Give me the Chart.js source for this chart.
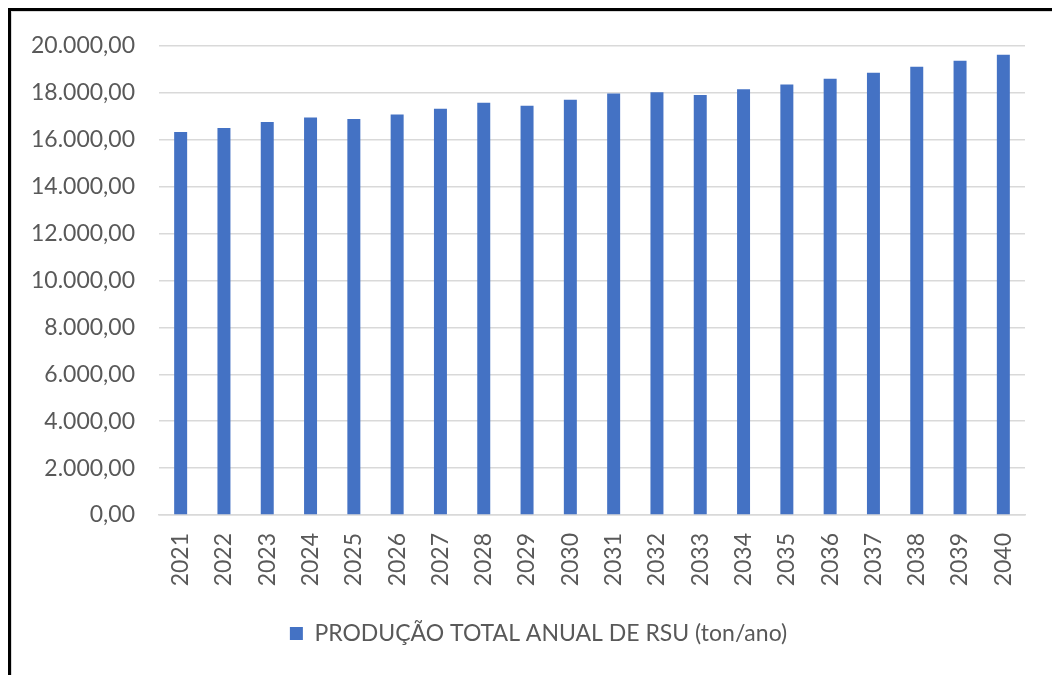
<!DOCTYPE html>
<html>
<head>
<meta charset="utf-8">
<script src="https://cdn.jsdelivr.net/npm/chart.js@4.4.1/dist/chart.umd.min.js"></script>
<style>
  html, body { margin: 0; padding: 0; background: #ffffff; }
  #wrap { position: relative; width: 1052px; height: 675px; overflow: hidden; }
  #frame { position: absolute; left: 8px; top: 8px; width: 1100px; height: 700px;
           border-left: 3px solid #000; border-top: 3px solid #000; pointer-events: none; }
  #frame2 { position: absolute; left: 11px; top: 11px; width: 1100px; height: 700px;
           border-left: 1px solid #d9d9d9; border-top: 1px solid #d9d9d9; pointer-events: none; }
</style>
</head>
<body>
<div id="wrap">
  <canvas id="c" width="1052" height="675"></canvas>
  <div id="frame"></div>
  <div id="frame2"></div>
</div>
<script>
const categories = ["2021","2022","2023","2024","2025","2026","2027","2028","2029","2030",
                    "2031","2032","2033","2034","2035","2036","2037","2038","2039","2040"];
const seriesName = "PRODUÇÃO TOTAL ANUAL DE RSU (ton/ano)";
const seriesValues = [16330, 16500, 16760, 16955, 16886, 17083, 17328, 17585, 17456, 17713,
                      17970, 18026, 17914, 18154, 18355, 18600, 18857, 19113, 19370, 19627];
const yTicks = [0, 2000, 4000, 6000, 8000, 10000, 12000, 14000, 16000, 18000, 20000];

function fmtBR(v) {
  const intPart = Math.round(v).toString().replace(/\B(?=(\d{3})+(?!\d))/g, ".");
  return intPart + ",00";
}

const FONT = "Lato, 'Open Sans', 'DejaVu Sans', sans-serif";
const TEXT = "#595959";
const GRID = "#d9d9d9";

const shiftLegend = {
  id: "shiftLegend",
  afterLayout(chart) {
    if (chart.legend) { chart.legend.left = 52; }
  }
};

new Chart(document.getElementById("c"), {
  type: "bar",
  data: {
    labels: categories,
    datasets: [{
      label: seriesName,
      data: seriesValues,
      backgroundColor: "#4472c4",
      borderWidth: 0,
      categoryPercentage: 1.0,
      barPercentage: 0.3
    }]
  },
  plugins: [shiftLegend],
  options: {
    responsive: false,
    animation: false,
    devicePixelRatio: 1,
    layout: { padding: { left: 0, top: 46, right: 27, bottom: 20 } },
    plugins: {
      tooltip: { enabled: false },
      legend: {
        position: "bottom",
        labels: {
          color: TEXT,
          font: { family: FONT, size: 23 },
          boxWidth: 13,
          boxHeight: 13,
          padding: 17
        }
      }
    },
    scales: {
      x: {
        grid: { display: false, drawTicks: false },
        border: { display: true, color: GRID, width: 1.5 },
        ticks: {
          color: TEXT,
          font: { family: FONT, size: 23 },
          minRotation: 90,
          maxRotation: 90,
          padding: 18,
          autoSkip: false
        },
        afterFit: (s) => { s.height = 90; }
      },
      y: {
        min: 0,
        max: 20000,
        afterBuildTicks: (s) => { s.ticks = yTicks.map(v => ({ value: v })); },
        grid: { color: GRID, lineWidth: 1.5, drawTicks: false },
        border: { display: false },
        ticks: {
          color: TEXT,
          font: { family: FONT, size: 23 },
          padding: 24,
          callback: (v) => fmtBR(v)
        },
        afterFit: (s) => { s.width = 159; }
      }
    }
  }
});
</script>
</body>
</html>
